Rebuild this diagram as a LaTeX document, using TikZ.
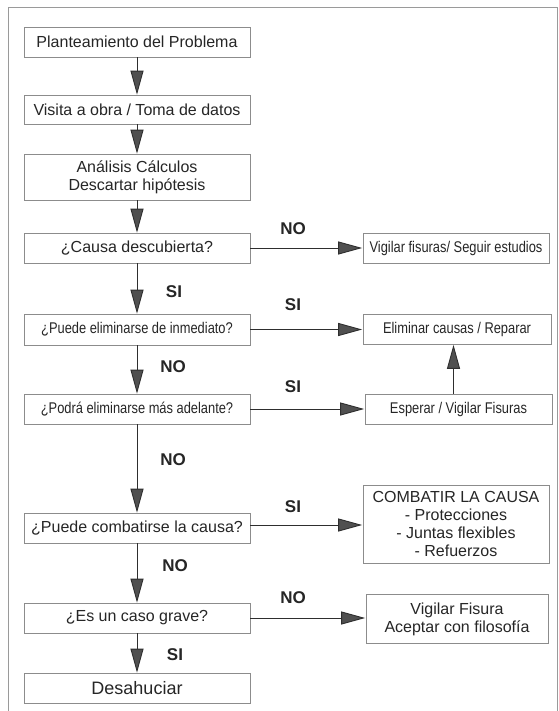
\documentclass[tikz,border=0pt]{standalone}
\usepackage{fontspec}
\setmainfont{Liberation Sans}
\newfontfamily\narrowf[FakeStretch=0.83]{Liberation Sans}
\usetikzlibrary{arrows.meta}
\definecolor{txt}{HTML}{262626}
\definecolor{boxline}{HTML}{8C8C8C}
\definecolor{arrline}{HTML}{2E2E2E}
\definecolor{headfill}{HTML}{505050}
\definecolor{framec}{HTML}{9A9A9A}
\tikzset{
  box/.style={draw=boxline, line width=0.7pt, rectangle, inner sep=0pt, align=center, text=txt, font=\fontsize{16}{18}\selectfont},
  nbox/.style={box, font=\narrowf\fontsize{15.5}{18}\selectfont},
  lbox/.style={box, minimum width=226pt, minimum height=30pt},
  flow/.style={draw=arrline, line width=0.9pt, -{Triangle[length=24pt,width=13pt,fill=headfill]}},
  lbl/.style={font=\bfseries\fontsize{17}{19}\selectfont, text=txt, inner sep=0pt},
}
\begin{document}
\begin{tikzpicture}[x=1pt,y=-1pt]
\useasboundingbox (0,0) rectangle (558,711);
\fill[white] (0,0) rectangle (558,711);
\draw[framec, line width=0.8pt] (8,711) -- (8,7) -- (557,7) -- (557,711);

% left column
\node[lbox] (b1) at (137,42) {Planteamiento del Problema};
\node[lbox, minimum height=29pt] (b2) at (137,109.5) {Visita a obra / Toma de datos};
\node[lbox, minimum height=46pt] (b3) at (137,177) {Análisis Cálculos\\Descartar hipótesis};
\node[lbox] (b4) at (137,248) {¿Causa descubierta?};
\node[lbox, nbox, minimum height=31pt] (b5) at (137,329.5) {¿Puede eliminarse de inmediato?};
\node[lbox, nbox] (b6) at (137,409) {¿Podrá eliminarse más adelante?};
\node[lbox] (b7) at (137,528) {¿Puede combatirse la causa?};
\node[lbox] (b8) at (137,618) {¿Es un caso grave?};
\node[lbox, font=\fontsize{18}{20}\selectfont] (b9) at (137,688) {Desahuciar};

% right column
\node[box, nbox, minimum width=186pt, minimum height=30pt] (r1) at (456,248) {Vigilar fisuras/ Seguir estudios};
\node[box, nbox, minimum width=188pt, minimum height=30pt] (r2) at (457,329.5) {Eliminar causas / Reparar};
\node[box, nbox, minimum width=187pt, minimum height=30pt] (r3) at (458.5,409) {Esperar / Vigilar Fisuras};
\node[box, minimum width=186pt, minimum height=78pt] (r4) at (456,524) {COMBATIR LA CAUSA\\- Protecciones\\- Juntas flexibles\\- Refuerzos};
\node[box, minimum width=182pt, minimum height=49pt] (r5) at (457,619) {Vigilar Fisura\\Aceptar con filosofía};

% vertical arrows
\draw[flow] (b1) -- (b2);
\draw[flow] (b2) -- (b3);
\draw[flow] (b3) -- (b4);
\draw[flow] (b4) -- (b5);
\draw[flow] (b5) -- (b6);
\draw[flow] (b6) -- (b7);
\draw[flow] (b7) -- (b8);
\draw[flow] (b8) -- (b9);

% horizontal arrows
\draw[flow, shorten >=0.5pt] (b4.east) -- (b4.east -| r1.west);
\draw[flow, shorten >=0.5pt] (b5.east) -- (b5.east -| r2.west);
\draw[flow, shorten >=0.5pt] (b6.east) -- (b6.east -| r3.west);
\draw[flow, shorten >=0.5pt] (b7.east |- 0,525) -- (r4.west |- 0,525);
\draw[flow, shorten >=0.5pt] (b8.east) -- (b8.east -| r5.west);
\draw[flow] ([xshift=-5pt]r3.north) -- ([xshift=-5pt]r3.north |- r2.south);

% labels
\node[lbl] (l1) at (293,229) {NO};
\node[lbl] (l2) at (174,292) {SI};
\node[lbl] (l3) at (293,305) {SI};
\node[lbl] (l4) at (173,367) {NO};
\node[lbl] (l5) at (293,387) {SI};
\node[lbl] (l6) at (173,460) {NO};
\node[lbl] (l7) at (293,507) {SI};
\node[lbl] (l8) at (175,566) {NO};
\node[lbl] (l9) at (293,598) {NO};
\node[lbl] (l10) at (175,655) {SI};
\end{tikzpicture}
\end{document}
